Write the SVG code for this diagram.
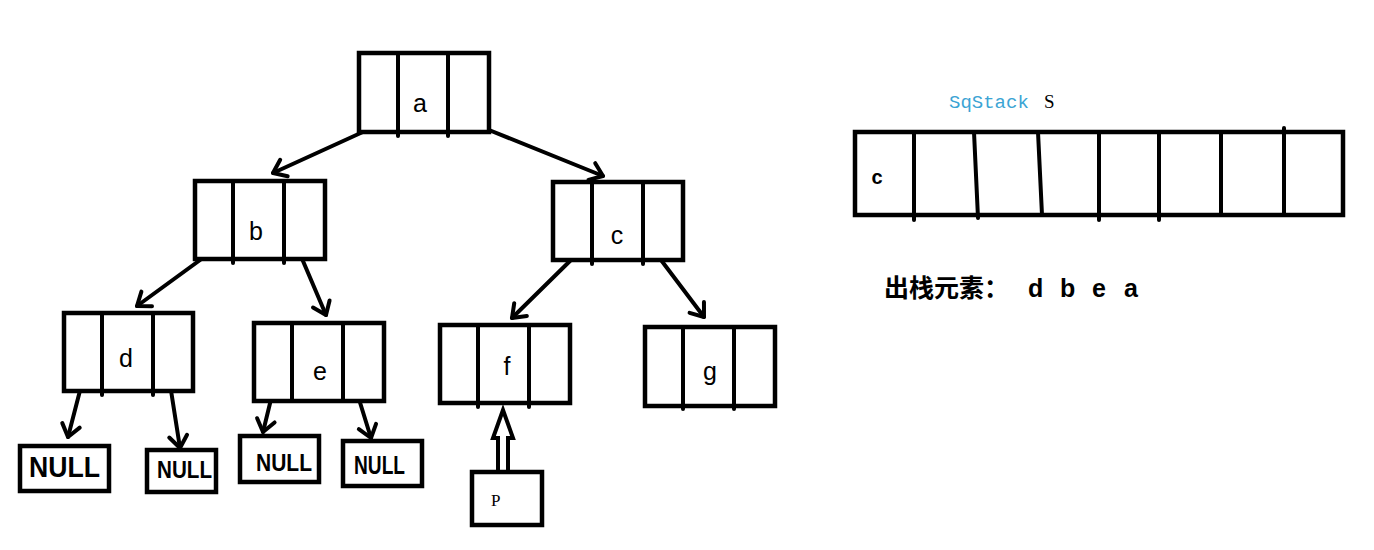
<svg xmlns="http://www.w3.org/2000/svg" width="1374" height="550" viewBox="0 0 1374 550">
<style>
.box{fill:#fff;stroke:#000;stroke-width:4.5}
.div{stroke:#000;stroke-width:4;stroke-linecap:round;fill:none}
.lbl{font-family:"Liberation Sans",Arial,sans-serif;font-size:25px;fill:#000;text-anchor:middle}
.null{font-family:"Liberation Sans",Arial,sans-serif;font-weight:bold;fill:#000}
.arr{stroke:#000;stroke-width:4;stroke-linecap:round;fill:none;marker-end:url(#v)}
</style>
<defs>
<marker id="v" markerUnits="userSpaceOnUse" markerWidth="30" markerHeight="30" refX="15" refY="15" orient="auto">
<path d="M3,6 L15,15 L3,24" fill="none" stroke="#000" stroke-width="4" stroke-linecap="round" stroke-linejoin="round"/>
</marker>
</defs>
<rect width="1374" height="550" fill="#fff"/>
<g id="connectors">
<line class="arr" x1="376" y1="126" x2="273" y2="173"/>
<line class="arr" x1="484" y1="128" x2="603" y2="176"/>
<line class="arr" x1="207" y1="255" x2="137" y2="306"/>
<line class="arr" x1="300" y1="254" x2="326" y2="315"/>
<line class="arr" x1="572" y1="259" x2="512" y2="318"/>
<line class="arr" x1="661" y1="260" x2="704" y2="317"/>
<line class="arr" x1="83" y1="379" x2="68" y2="437"/>
<line class="arr" x1="170" y1="384" x2="180" y2="448"/>
<line class="arr" x1="274" y1="387" x2="263" y2="432"/>
<line class="arr" x1="358" y1="396" x2="371" y2="438"/>
<path d="M498,472 L498,438 L493,438 L503,410 L513,438 L508,438 L508,472 Z" fill="#fff" stroke="#000" stroke-width="4" stroke-linejoin="miter"/>
</g>
<g id="node-a">
<rect class="box" x="359" y="53" width="130" height="79"/>
<line class="div" x1="398" y1="53" x2="398" y2="136"/>
<line class="div" x1="448" y1="53" x2="448" y2="136"/>
<text class="lbl" x="420" y="112">a</text>
</g>
<g id="node-b">
<rect class="box" x="195" y="181" width="130" height="78"/>
<line class="div" x1="233" y1="181" x2="233" y2="263"/>
<line class="div" x1="284" y1="181" x2="284" y2="263"/>
<text class="lbl" x="256" y="240">b</text>
</g>
<g id="node-c">
<rect class="box" x="553" y="182" width="130" height="78"/>
<line class="div" x1="592" y1="182" x2="592" y2="264"/>
<line class="div" x1="643" y1="182" x2="643" y2="264"/>
<text class="lbl" x="617" y="244">c</text>
</g>
<g id="node-d">
<rect class="box" x="64" y="313" width="129" height="78"/>
<line class="div" x1="102" y1="313" x2="102" y2="395"/>
<line class="div" x1="153" y1="313" x2="153" y2="395"/>
<text class="lbl" x="126" y="367">d</text>
</g>
<g id="node-e">
<rect class="box" x="254" y="323" width="130" height="78"/>
<line class="div" x1="292" y1="323" x2="292" y2="401"/>
<line class="div" x1="343" y1="323" x2="343" y2="401"/>
<text class="lbl" x="320" y="380">e</text>
</g>
<g id="node-f">
<rect class="box" x="440" y="325" width="130" height="78"/>
<line class="div" x1="478" y1="325" x2="478" y2="407"/>
<line class="div" x1="529" y1="325" x2="529" y2="407"/>
<text class="lbl" x="507" y="375">f</text>
</g>
<g id="node-g">
<rect class="box" x="645" y="327" width="130" height="79"/>
<line class="div" x1="683" y1="327" x2="683" y2="409"/>
<line class="div" x1="734" y1="327" x2="734" y2="409"/>
<text class="lbl" x="710" y="380">g</text>
</g>
<g id="null-1">
<rect class="box" x="20" y="446" width="89" height="45"/>
<text class="null" x="29" y="477" font-size="29" textLength="71" lengthAdjust="spacingAndGlyphs">NULL</text>
</g>
<g id="null-2">
<rect class="box" x="147" y="450" width="69" height="42"/>
<text class="null" x="157" y="478" font-size="23" textLength="55" lengthAdjust="spacingAndGlyphs">NULL</text>
</g>
<g id="null-3">
<rect class="box" x="240" y="436" width="79" height="46"/>
<text class="null" x="256" y="471" font-size="24" textLength="56" lengthAdjust="spacingAndGlyphs">NULL</text>
</g>
<g id="null-4">
<rect class="box" x="343" y="441" width="79" height="45"/>
<text class="null" x="354" y="474" font-size="25" textLength="51" lengthAdjust="spacingAndGlyphs">NULL</text>
</g>
<g id="node-p">
<rect class="box" x="472" y="472" width="70" height="53"/>
<text x="491" y="506" font-family="Liberation Serif,serif" font-size="17" fill="#000">P</text>
</g>
<g id="stack">
<text x="949" y="108" font-family="Liberation Mono,monospace" font-size="19" fill="#3ca4d4">SqStack<tspan x="1044" fill="#000" font-family="Liberation Serif,serif">S</tspan></text>
<rect class="box" x="855" y="132" width="488" height="83"/>
<line class="div" x1="914" y1="132" x2="914" y2="220"/>
<line class="div" x1="974" y1="132" x2="978" y2="218"/>
<line class="div" x1="1038" y1="132" x2="1042" y2="215"/>
<line class="div" x1="1099" y1="132" x2="1099" y2="220"/>
<line class="div" x1="1159" y1="132" x2="1159" y2="220"/>
<line class="div" x1="1221" y1="132" x2="1221" y2="215"/>
<line class="div" x1="1284" y1="128" x2="1284" y2="215"/>
<text x="877" y="184" font-family="Liberation Sans,Arial,sans-serif" font-weight="bold" font-size="20" text-anchor="middle">c</text>
</g>
<text x="884" y="297" font-family="Liberation Sans,'Noto Sans CJK SC',sans-serif" font-weight="bold" font-size="25" fill="#000">出栈元素：<tspan x="1028">d</tspan><tspan x="1060">b</tspan><tspan x="1092">e</tspan><tspan x="1124">a</tspan></text>
</svg>
